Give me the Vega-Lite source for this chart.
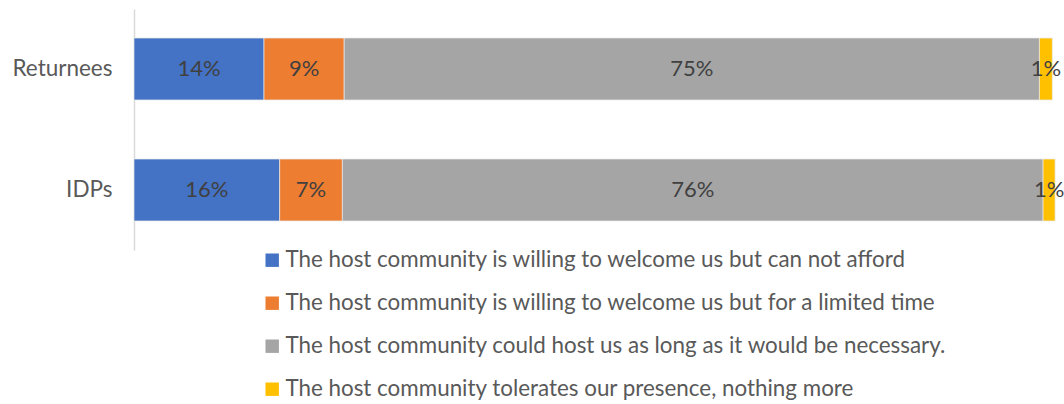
{
  "$schema": "https://vega.github.io/schema/vega-lite/v6.json",
  "autosize": {"type": "none"},
  "width": 922,
  "height": 241,
  "padding": {"left": 134, "top": 9, "right": 8, "bottom": 154},
  "background": "white",
  "config": {"view": {"stroke": null}, "font": "Lato"},
  "data": {"values": [
    {"group": "Returnees", "answer": "The host community is willing to welcome us but can not afford", "order": 1, "value": 0.141},
    {"group": "Returnees", "answer": "The host community is willing to welcome us but for a limited time", "order": 2, "value": 0.087},
    {"group": "Returnees", "answer": "The host community could host us as long as it would be necessary.", "order": 3, "value": 0.754},
    {"group": "Returnees", "answer": "The host community tolerates our presence, nothing more", "order": 4, "value": 0.014},
    {"group": "IDPs", "answer": "The host community is willing to welcome us but can not afford", "order": 1, "value": 0.158},
    {"group": "IDPs", "answer": "The host community is willing to welcome us but for a limited time", "order": 2, "value": 0.068},
    {"group": "IDPs", "answer": "The host community could host us as long as it would be necessary.", "order": 3, "value": 0.760},
    {"group": "IDPs", "answer": "The host community tolerates our presence, nothing more", "order": 4, "value": 0.013}
  ]},
  "transform": [
    {"stack": "value", "groupby": ["group"], "sort": [{"field": "order"}], "as": ["v0", "v1"], "offset": "zero"},
    {"calculate": "(datum.v0 + datum.v1) / 2", "as": "mid"}
  ],
  "encoding": {
    "y": {"field": "group", "type": "nominal", "sort": ["Returnees", "IDPs"],
      "scale": {"paddingInner": 0.488, "paddingOuter": 0.24},
      "axis": {"title": null, "ticks": false, "domainColor": "#d9d9d9", "domainWidth": 1.5, "labelFontSize": 22.5, "labelColor": "#595959", "labelPadding": 22, "labelFont": "Lato"}}
  },
  "layer": [
    {
      "mark": {"type": "bar", "stroke": "#e8e8e8", "strokeWidth": 0.7},
      "encoding": {
        "x": {"field": "v0", "type": "quantitative", "scale": {"domain": [0, 1], "nice": false}, "axis": null},
        "x2": {"field": "v1"},
        "color": {"field": "answer", "type": "nominal",
          "sort": ["The host community is willing to welcome us but can not afford", "The host community is willing to welcome us but for a limited time", "The host community could host us as long as it would be necessary.", "The host community tolerates our presence, nothing more"],
          "scale": {"domain": ["The host community is willing to welcome us but can not afford", "The host community is willing to welcome us but for a limited time", "The host community could host us as long as it would be necessary.", "The host community tolerates our presence, nothing more"],
            "range": ["#4472C4", "#ED7D31", "#A5A5A5", "#FFC000"]},
          "legend": {"title": null, "orient": "none", "legendX": 127, "legendY": 240, "direction": "vertical",
            "symbolType": "square", "symbolSize": 180, "symbolStrokeWidth": 0, "symbolOffset": 0,
            "labelFontSize": 22.4, "labelColor": "#595959", "labelLimit": 900, "labelOffset": 2, "rowPadding": 20, "labelFont": "Lato"}},
        "order": {"field": "order"}
      }
    },
    {
      "mark": {"type": "text", "fontSize": 22, "color": "#404040", "font": "Lato"},
      "encoding": {
        "x": {"field": "mid", "type": "quantitative"},
        "text": {"field": "value", "type": "quantitative", "format": ".0%"}
      }
    }
  ]
}
